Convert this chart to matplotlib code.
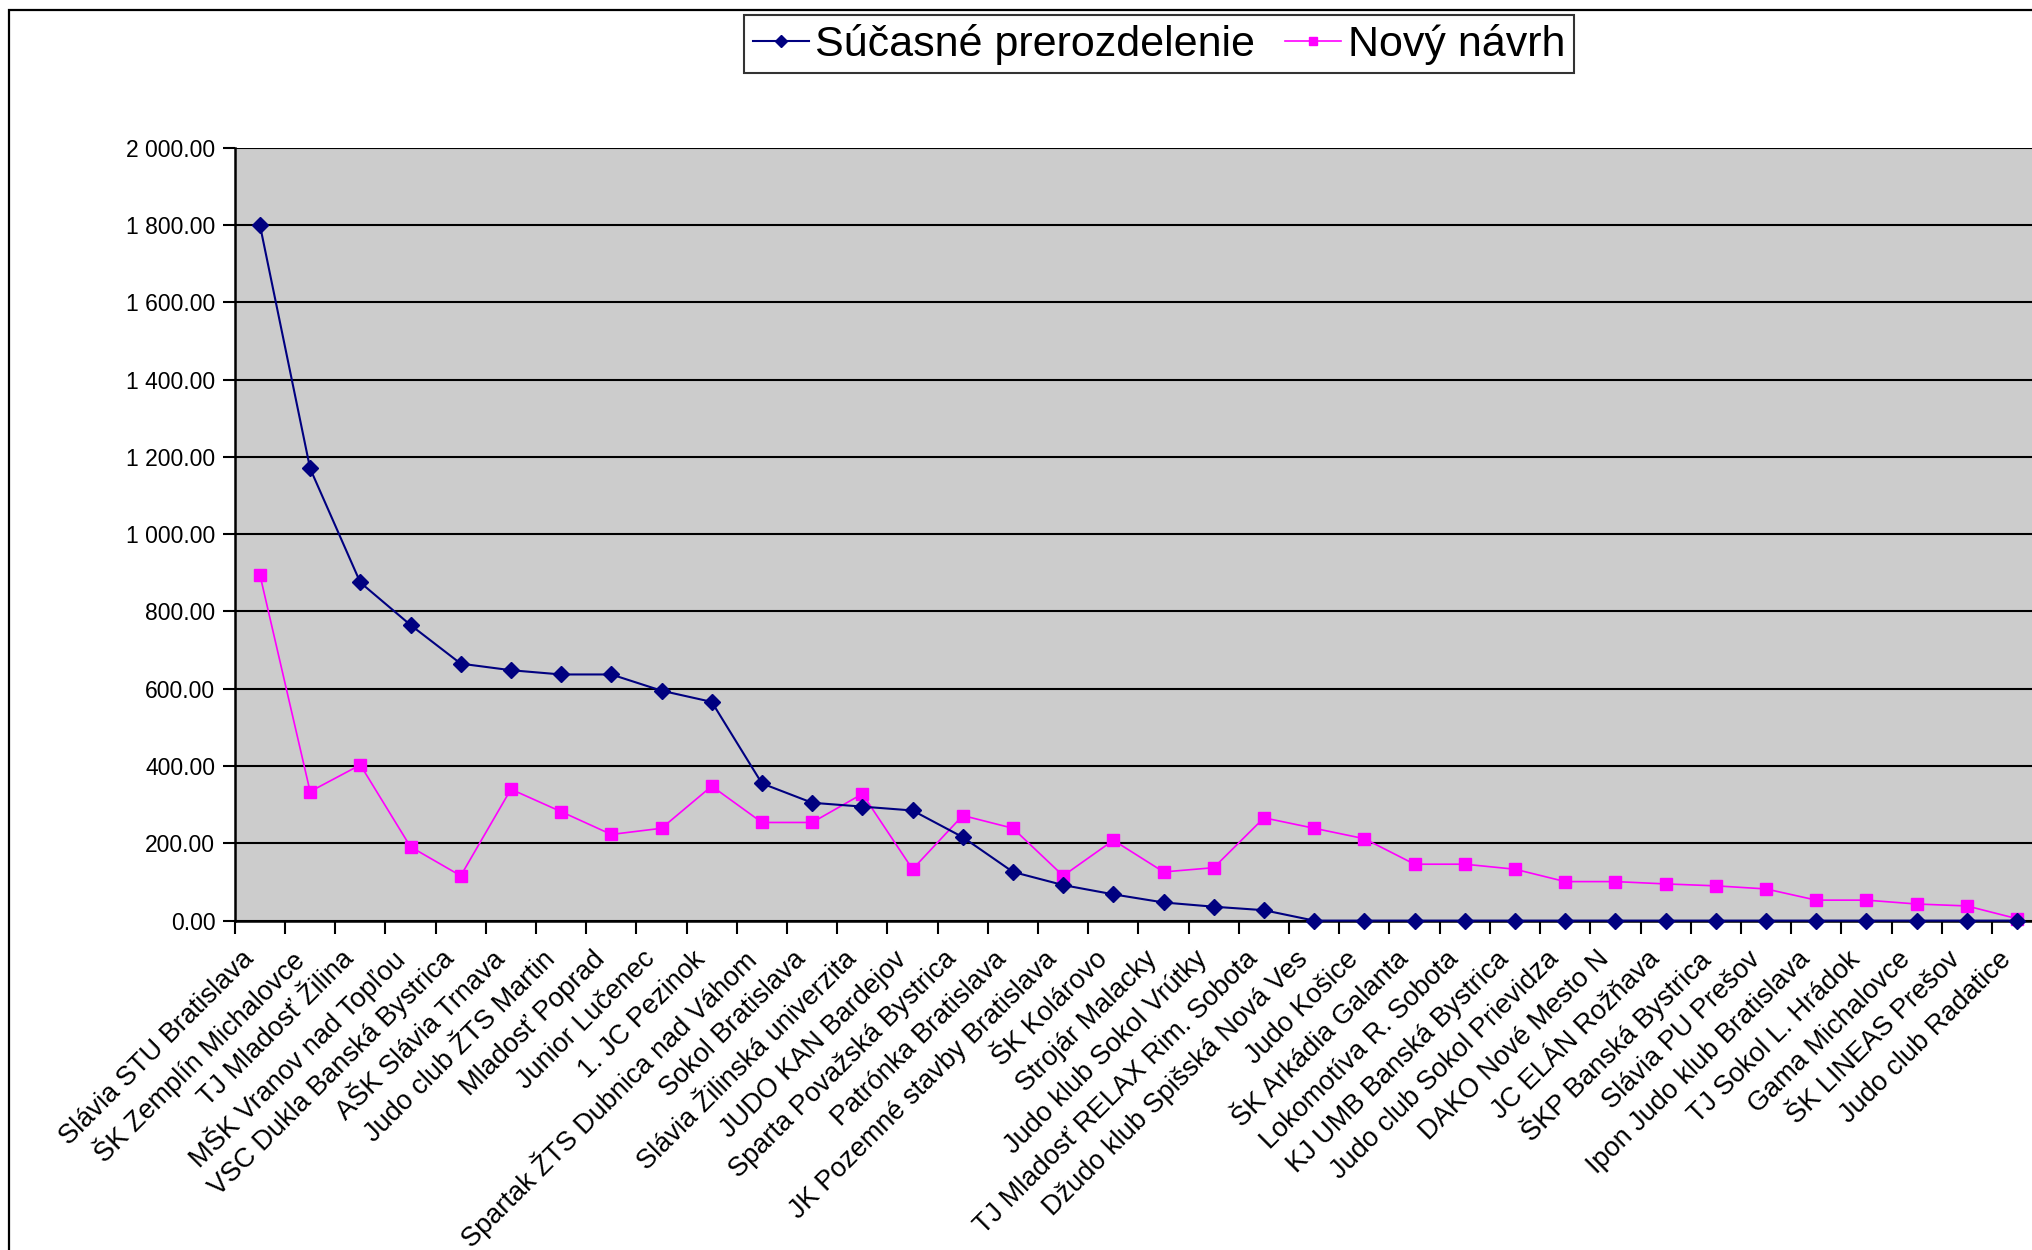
import numpy as np
import matplotlib
matplotlib.use("Agg")
import matplotlib.pyplot as plt
from matplotlib.ticker import FuncFormatter, FixedLocator
from matplotlib.patches import Rectangle
from matplotlib.transforms import ScaledTranslation

plt.rcParams['font.family'] = ['Liberation Sans', 'DejaVu Sans']

kluby = ["Slávia STU Bratislava", "ŠK Zemplín Michalovce", "TJ Mladosť Žilina",
         "MŠK Vranov nad Topľou", "VSC Dukla Banská Bystrica", "AŠK Slávia Trnava",
         "Judo club ŽTS Martin", "Mladosť Poprad", "Junior Lučenec", "1. JC Pezinok",
         "Spartak ŽTS Dubnica nad Váhom", "Sokol Bratislava", "Slávia Žilinská univerzita",
         "JUDO KAN Bardejov", "Sparta Považská Bystrica", "Patrónka Bratislava",
         "JK Pozemné stavby Bratislava", "ŠK Kolárovo", "Strojár Malacky",
         "Judo klub Sokol Vrútky", "TJ Mladosť RELAX Rim. Sobota",
         "Džudo klub Spišská Nová Ves", "Judo Košice", "ŠK Arkádia Galanta",
         "Lokomotíva R. Sobota", "KJ UMB Banská Bystrica", "Judo club Sokol Prievidza",
         "DAKO Nové Mesto N", "JC ELÁN Rožňava", "ŠKP Banská Bystrica",
         "Slávia PU Prešov", "Ipon Judo klub Bratislava", "TJ Sokol L. Hrádok",
         "Gama Michalovce", "ŠK LINEAS Prešov", "Judo club Radatice"]

sucasne = [1800, 1170, 875, 765, 665, 648, 637, 637, 595, 566, 355, 305, 295, 285,
           216, 126, 92, 68, 47, 36, 27, 0, 0, 0, 0, 0, 0, 0, 0, 0, 0, 0, 0, 0, 0, 0]
novy = [895, 334, 403, 191, 116, 340, 282, 223, 239, 348, 254, 254, 328, 133, 272,
        239, 116, 208, 126, 137, 266, 239, 212, 146, 146, 133, 101, 101, 95, 90,
        82, 53, 53, 43, 38, 5]

fig = plt.figure(figsize=(20.33, 12.5), dpi=100)

# outer chart border (cut off on right and bottom)
fig.patches.append(Rectangle((9 / 2033, -0.1), 1.2, 1 - 10 / 1250 + 0.1,
                             transform=fig.transFigure, fill=False,
                             edgecolor='black', linewidth=1.6, zorder=0))

ax = fig.add_axes([0.1155, 0.2635, 0.889, 0.6183])
ax.set_facecolor('#cccccc')

x = np.arange(len(kluby))
l1, = ax.plot(x, sucasne, color='#000080', linewidth=1.5, marker='D',
              markersize=8.5, label='Súčasné prerozdelenie', zorder=4, clip_on=False)
l2, = ax.plot(x, novy, color='#ff00ff', linewidth=1.2, marker='s',
              markersize=9, label='Nový návrh', zorder=3, clip_on=False)

ax.set_xlim(-0.5, len(kluby) - 0.5)
ax.set_ylim(0, 2000)
ax.set_yticks(np.arange(0, 2001, 200))
ax.yaxis.set_major_formatter(FuncFormatter(lambda v, p: f"{v:,.2f}".replace(",", " ")))
ax.yaxis.grid(True, color='black', linewidth=1.5)
ax.set_axisbelow(True)

ax.set_xticks(x)
ax.set_xticklabels(kluby, rotation=45, ha='right', va='center', rotation_mode='anchor')
ax.xaxis.set_minor_locator(FixedLocator(np.arange(-0.5, len(kluby), 1)))
ax.tick_params(axis='x', which='major', length=0, pad=25, labelsize=19.5)
ax.tick_params(axis='x', which='minor', length=9, width=1.5, direction='out')
ax.tick_params(axis='y', length=9, width=1.5, direction='out', labelsize=16.5, pad=5)

# nudge labels a bit left, like in the original
shift = ScaledTranslation(-10 / 100, 0, fig.dpi_scale_trans)
for lab in ax.get_xticklabels():
    lab.set_transform(lab.get_transform() + shift)

for s in ['top', 'right']:
    ax.spines[s].set_visible(False)
for s in ['left', 'bottom']:
    ax.spines[s].set_linewidth(1.8)

leg = fig.legend(handles=[l1, l2], loc='upper center', ncol=2,
                 bbox_to_anchor=(0.570, 0.988), fontsize=31, frameon=True,
                 fancybox=False, edgecolor='black', handlelength=1.3,
                 handletextpad=0.15, columnspacing=0.7, borderpad=0.2,
                 borderaxespad=0)
leg.get_frame().set_linewidth(1.5)
for h in leg.legend_handles:
    h.set_markersize(6)

fig.savefig('out.png', dpi=100)
